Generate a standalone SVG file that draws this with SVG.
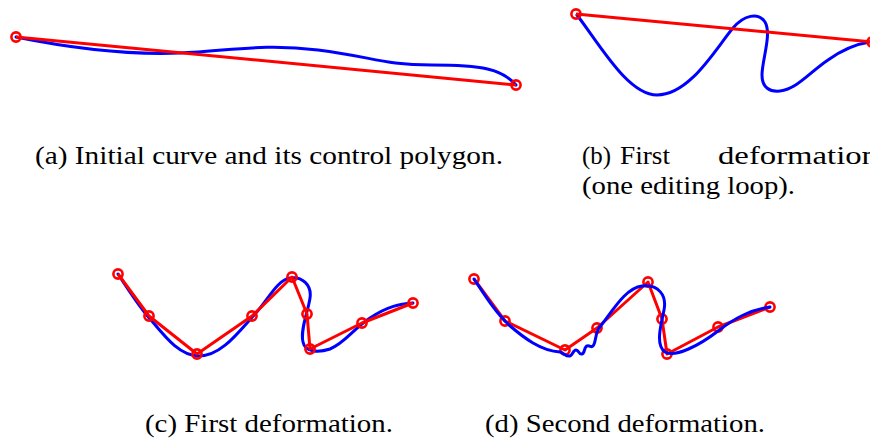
<svg xmlns="http://www.w3.org/2000/svg" width="870" height="439" viewBox="0 0 870 439">
<style>
.bg{fill:#ffffff}
.cv{fill:none;stroke:#0000ff;stroke-width:3;stroke-linejoin:round;stroke-linecap:round}
.pl{fill:none;stroke:#ff0000;stroke-width:3;stroke-linejoin:round}
.pt{fill:none;stroke:#ff0000;stroke-width:2.6}
.cap{font-family:"Liberation Serif","DejaVu Serif",serif;font-size:26px;fill:#000}
</style>
<rect class="bg" x="0" y="0" width="870" height="439"/>

<g id="fig-a">
  <path class="cv" d="M16,37 C70,48 130,55 180,53 S262,43 318,50 S382,65 432,65 S502,69 516,85"/>
  <path class="pl" d="M16,37 L516,85"/>
  <circle class="pt" cx="16" cy="37" r="4.6"/>
  <circle class="pt" cx="516" cy="85" r="4.6"/>
  <text class="cap" x="35" y="164" textLength="468" lengthAdjust="spacingAndGlyphs">(a) Initial curve and its control polygon.</text>
</g>

<g id="fig-b">
  <path class="cv" d="M577,15 C600,45 628,95 657,95 C690,95 716,48 733,28 C744,15 758,12 765,22 C772,34 762,60 762,75 C762,88 770,92 780,91 C797,89 810,72 828,60 C842,50 856,44 870,42"/>
  <path class="pl" d="M576,14 L872,42"/>
  <circle class="pt" cx="576" cy="14" r="4.6"/>
  <circle class="pt" cx="872" cy="42" r="4.6"/>
  <text class="cap" x="582" y="164" textLength="29" lengthAdjust="spacingAndGlyphs">(b)</text>
  <text class="cap" x="620" y="164" textLength="50" lengthAdjust="spacingAndGlyphs">First</text>
  <text class="cap" x="718" y="164" textLength="160" lengthAdjust="spacingAndGlyphs">deformation</text>
  <text class="cap" x="582" y="194" textLength="213" lengthAdjust="spacingAndGlyphs">(one editing loop).</text>
</g>

<g id="fig-c">
  <path class="cv" d="M118,274 C130,292 140,308 151,320 C166,338 180,356 199,356 C222,356 240,330 255,314 C268,300 277,280 290,278 C302,276 312,285 310,298 C308,312 300,330 303,342 C305,352 318,353 330,349 C345,343 352,330 370,318 C388,306 400,304 413,303"/>
  <path class="pl" d="M118,274 L149,316 L197,354 L252,316 L292,277 L307,314 L310,349 L362,323 L413,303"/>
  <circle class="pt" cx="118" cy="274" r="4.6"/>
  <circle class="pt" cx="149" cy="316" r="4.6"/>
  <circle class="pt" cx="197" cy="354" r="4.6"/>
  <circle class="pt" cx="252" cy="316" r="4.6"/>
  <circle class="pt" cx="292" cy="277" r="4.6"/>
  <circle class="pt" cx="307" cy="314" r="4.6"/>
  <circle class="pt" cx="310" cy="349" r="4.6"/>
  <circle class="pt" cx="362" cy="323" r="4.6"/>
  <circle class="pt" cx="413" cy="303" r="4.6"/>
  <text class="cap" x="145" y="432" textLength="248" lengthAdjust="spacingAndGlyphs">(c) First deformation.</text>
</g>

<g id="fig-d">
  <path class="pl" d="M474,279 L505,321 L565,350 L597,328 L648,282 L662,319 L667,354 L718,327 L770,307"/>
  <circle class="pt" cx="474" cy="279" r="4.6"/>
  <circle class="pt" cx="505" cy="321" r="4.6"/>
  <circle class="pt" cx="565" cy="350" r="4.6"/>
  <circle class="pt" cx="597" cy="328" r="4.6"/>
  <circle class="pt" cx="648" cy="282" r="4.6"/>
  <circle class="pt" cx="662" cy="319" r="4.6"/>
  <circle class="pt" cx="667" cy="354" r="4.6"/>
  <circle class="pt" cx="718" cy="327" r="4.6"/>
  <circle class="pt" cx="770" cy="307" r="4.6"/>
  <path class="cv" d="M474,279 C486,297 496,313 509,325 C524,338 541,351 560,352 C564,353 566,357 570,356 C573,355 573,350 576,350 C579,350 579,355 582,354 C585,353 584,347 587,346 C590,345 591,348 593,346 C596,343 595,334 599,328 C612,312 625,288 642,286 C658,284 667,295 664,310 C661,325 655,345 665,352 C675,358 700,345 718,331 C735,318 750,310 770,307"/>
  <text class="cap" x="485" y="432" textLength="280" lengthAdjust="spacingAndGlyphs">(d) Second deformation.</text>
</g>
</svg>
